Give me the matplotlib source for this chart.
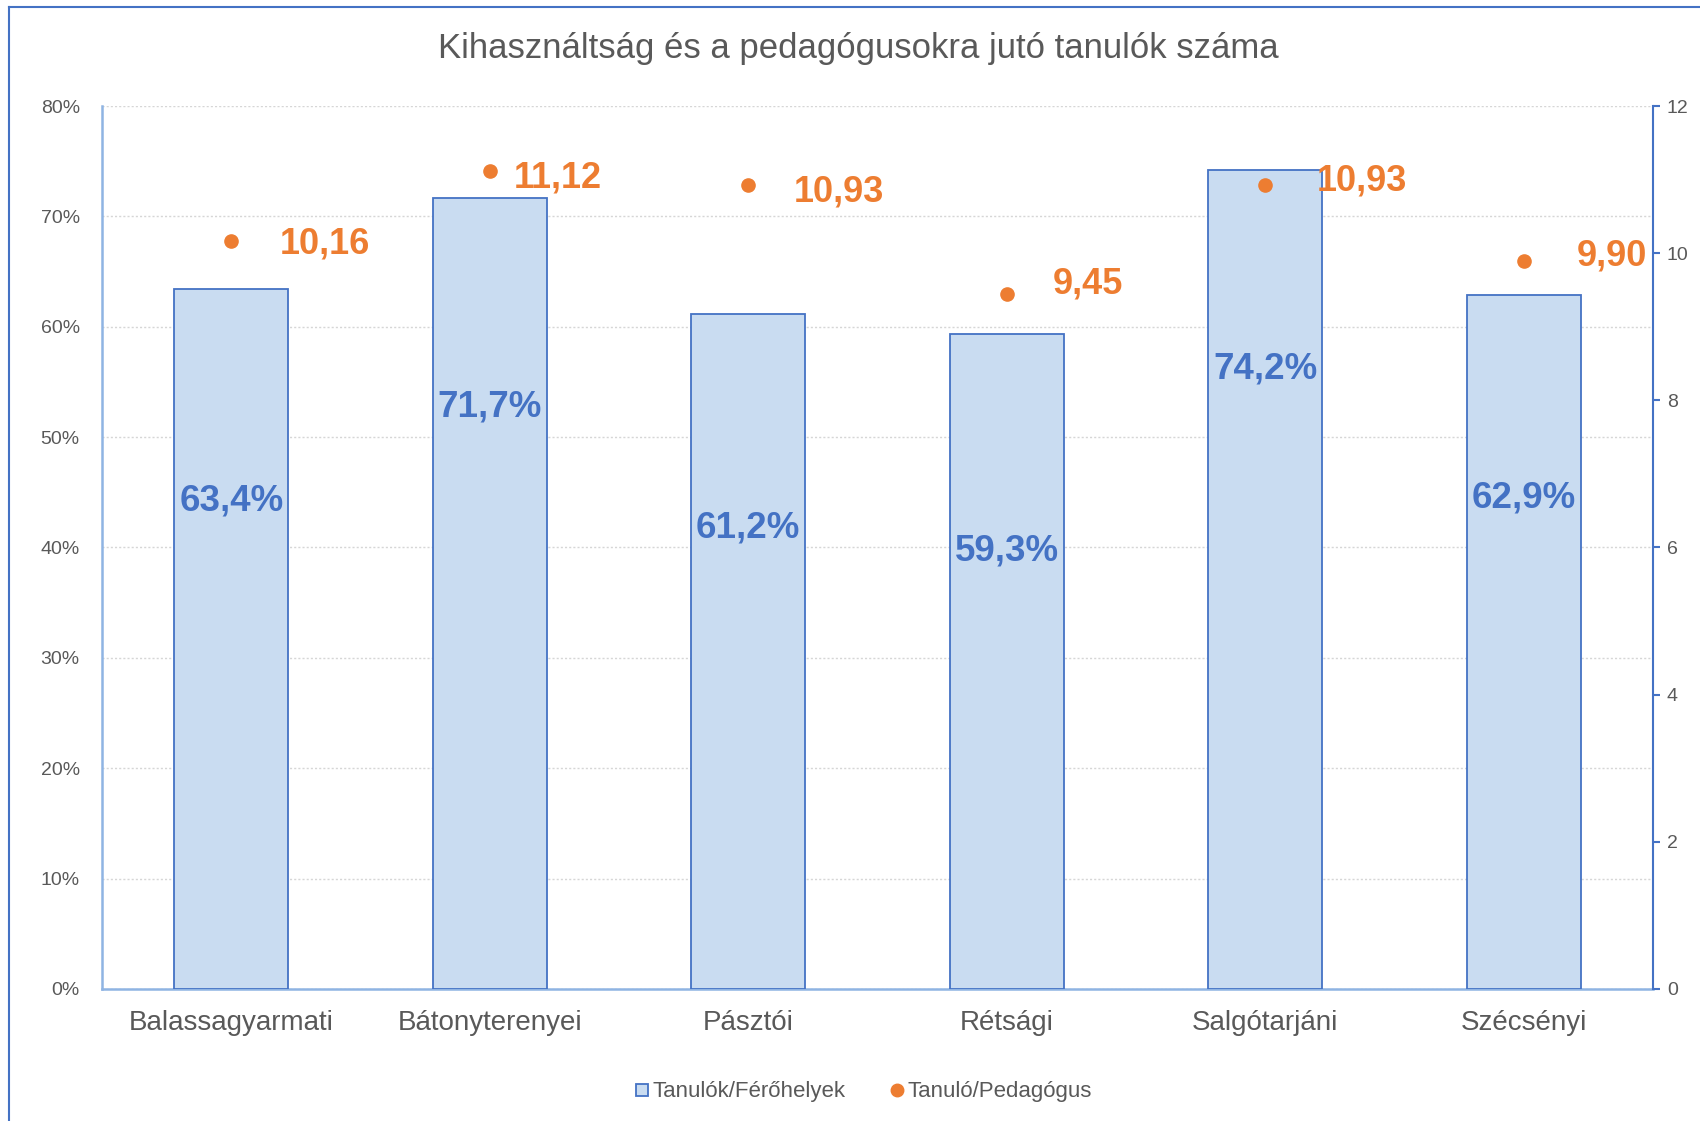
import numpy as np
import matplotlib
matplotlib.use("Agg")
import matplotlib.pyplot as plt
from matplotlib.lines import Line2D
from matplotlib.ticker import FuncFormatter

# ── Data ───────────────────────────────────────────────────────────────────
categories = ["Balassagyarmati", "Bátonyterenyei", "Pásztói",
              "Rétsági", "Salgótarjáni", "Szécsényi"]
utilisation = [63.4, 71.7, 61.2, 59.3, 74.2, 62.9]        # Tanulók/Férőhelyek, %
ratio = [10.16, 11.12, 10.93, 9.45, 10.93, 9.90]          # Tanuló/Pedagógus

# ── Styling ────────────────────────────────────────────────────────────────
BAR_FILL = "#C9DCF1"
BAR_EDGE = "#4472C4"
ORANGE = "#ED7D31"
TEXT = "#595959"
AXIS_LIGHT = "#8FB4E3"
AXIS_DARK = "#4472C4"
GRID = "#D6D6D6"

# manual label placement (Excel style, hand-nudged labels)
bar_label_drop = [19.2, 19.0, 19.4, 19.6, 18.0, 18.4]     # % below bar top
dot_label_dx = [35, 17, 33, 33, 37, 38]                    # points
dot_label_dy = [-2, -5, -5, 7, 3, 3]                       # points

plt.rcParams["font.family"] = ["Liberation Sans", "DejaVu Sans"]

fig = plt.figure(figsize=(17, 11.21), dpi=100)
ax = fig.add_axes([0.060, 0.1178, 0.9124, 0.7876])
ax2 = ax.twinx()

x = np.arange(len(categories))

# bars
ax.bar(x, utilisation, width=0.44, color=BAR_FILL, edgecolor=BAR_EDGE,
       linewidth=1.3, zorder=3, label="Tanulók/Férőhelyek")
for xi, v, d in zip(x, utilisation, bar_label_drop):
    ax.text(xi, v - d, f"{v:.1f}%".replace(".", ","), ha="center", va="center",
            fontsize=26.5, fontweight="bold", color=BAR_EDGE, zorder=5)

ax.set_xlim(-0.5, len(categories) - 0.5)
ax.set_ylim(0, 80)
ax.set_yticks(np.arange(0, 81, 10))
ax.yaxis.set_major_formatter(FuncFormatter(lambda v, _: f"{v:.0f}%"))
ax.set_xticks(x)
ax.set_xticklabels(categories)
ax.grid(axis="y", color=GRID, linestyle=(0, (1.5, 1.5)), linewidth=1.0, zorder=0)
ax.set_axisbelow(True)

ax.tick_params(axis="y", length=0, pad=16, labelsize=14, labelcolor=TEXT)
ax.tick_params(axis="x", length=0, pad=15, labelsize=20, labelcolor=TEXT)

for s in ["top", "right"]:
    ax.spines[s].set_visible(False)
ax.spines["left"].set_color(AXIS_LIGHT)
ax.spines["bottom"].set_color(AXIS_LIGHT)
ax.spines["left"].set_linewidth(1.8)
ax.spines["bottom"].set_linewidth(1.8)

# dots on the secondary axis
ax2.plot(x, ratio, linestyle="none", marker="o", markersize=9.5,
         color=ORANGE, zorder=6, label="Tanuló/Pedagógus")
for xi, v, dx, dy in zip(x, ratio, dot_label_dx, dot_label_dy):
    ax2.annotate(f"{v:.2f}".replace(".", ","), (xi, v),
                 xytext=(dx, dy), textcoords="offset points",
                 ha="left", va="center", fontsize=26, fontweight="bold",
                 color=ORANGE, zorder=7)

ax2.set_ylim(0, 12)
ax2.set_yticks(np.arange(0, 13, 2))
ax2.tick_params(axis="y", direction="out", length=5, width=1.5,
                color=AXIS_DARK, pad=5, labelsize=14, labelcolor=TEXT)
for s in ["top", "left", "bottom"]:
    ax2.spines[s].set_visible(False)
ax2.spines["right"].set_color(AXIS_DARK)
ax2.spines["right"].set_linewidth(1.5)

# title
fig.text(0.505, 0.957, "Kihasználtság és a pedagógusokra jutó tanulók száma",
         ha="center", va="center", fontsize=25, color=TEXT)

# legend
handles = [
    Line2D([], [], linestyle="none", marker="s", markersize=9,
           markerfacecolor=BAR_FILL, markeredgecolor=BAR_EDGE, markeredgewidth=1.3),
    Line2D([], [], linestyle="none", marker="o", markersize=9, color=ORANGE),
]
fig.legend(handles, ["Tanulók/Férőhelyek", "Tanuló/Pedagógus"],
           loc="center", bbox_to_anchor=(0.508, 0.026), ncol=2, frameon=False,
           fontsize=16, labelcolor=TEXT, handlelength=0.6, handletextpad=0.2,
           columnspacing=2.0)

# chart area frame (partly cut off in the source screenshot)
fig.add_artist(Line2D([9 / 1700, 9 / 1700], [0, 1 - 7 / 1121],
                      transform=fig.transFigure, color=AXIS_DARK, linewidth=1.5))
fig.add_artist(Line2D([9 / 1700, 1], [1 - 7 / 1121, 1 - 7 / 1121],
                      transform=fig.transFigure, color=AXIS_DARK, linewidth=1.5))

fig.savefig("out.png", dpi=100)
plt.close(fig)
